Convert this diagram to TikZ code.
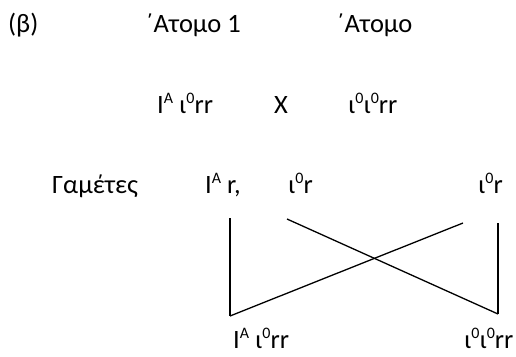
\documentclass[tikz,border=0pt]{standalone}
\usepackage{fontspec}
\setmainfont{Carlito}
\newcommand{\supx}[1]{\raisebox{9.5pt}{\fontsize{16}{16}\selectfont #1}}
\tikzset{
  txt/.style={anchor=base west, inner sep=0pt, font=\fontsize{26.5}{32}\selectfont},
  ln/.style={line width=1.3pt, line cap=butt}
}
\begin{document}
\begin{tikzpicture}[x=1pt,y=-1pt]
\useasboundingbox (0,0) rectangle (516,356);
\node[txt] (beta) at (8,32) {(β)};
\node[txt] (at1) at (145,32) {΄Ατομο 1};
\node[txt] (at2) at (336,32) {΄Ατομο};
\node[txt] (p1) at (157,113) {I\supx{A} ι\supx{0}rr};
\node[txt] (x) at (274,113) {X};
\node[txt] (p2) at (348,113) {ι\supx{0}ι\supx{0}rr};
\node[txt] (gam) at (52,193) {Γαμέτες};
\node[txt] (g1) at (205,193) {I\supx{A} r,};
\node[txt] (g2) at (288,193) {ι\supx{0}r};
\node[txt] (g3) at (478,193) {ι\supx{0}r};
\node[txt] (c1) at (233,348) {I\supx{A} ι\supx{0}rr};
\node[txt] (c2) at (464,348) {ι\supx{0}ι\supx{0}rr};
\coordinate (a1) at (230,218);
\coordinate (a2) at (287,219);
\coordinate (a3) at (463,223);
\coordinate (a4) at (498,223);
\coordinate (b1) at (230,316);
\coordinate (b2) at (498,314);
\draw[ln] (a1) -- (b1);
\draw[ln] (b1) -- (a3);
\draw[ln] (a2) -- (b2);
\draw[ln] (a4) -- (b2);
\end{tikzpicture}
\end{document}
